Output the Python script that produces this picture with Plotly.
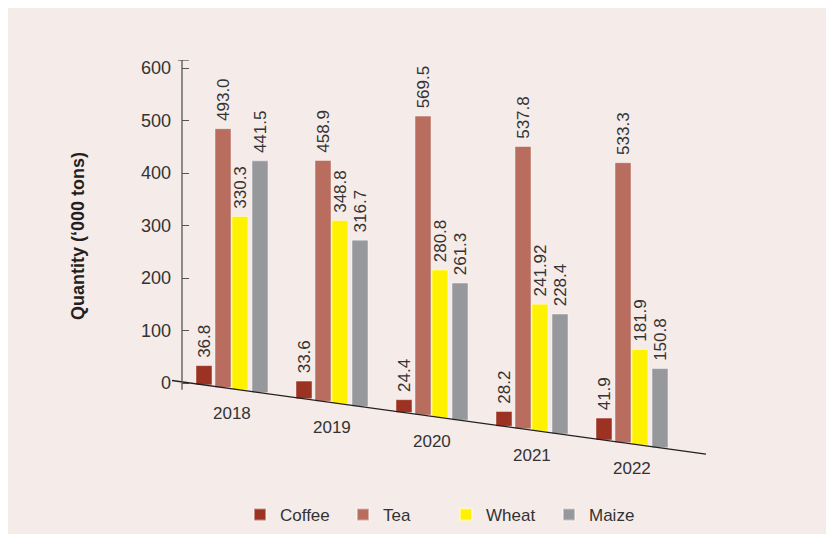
import plotly.graph_objects as go

# data
years = [2018, 2019, 2020, 2021, 2022]
coffee = [36.8, 33.6, 24.4, 28.2, 41.9]
tea = [493.0, 458.9, 569.5, 537.8, 533.3]
wheat = [330.3, 348.8, 280.8, 241.92, 181.9]
maize = [441.5, 316.7, 261.3, 228.4, 150.8]

series = [('Coffee', coffee, '#9c3222'), ('Tea', tea, '#b86d5e'),
          ('Wheat', wheat, '#fff200'), ('Maize', maize, '#97989b')]

# page geometry (pixels); the page body adds an 8px offset to the figure
PAGE_OFF = 8
W, H = 834 - PAGE_OFF, 534 - PAGE_OFF
PLOT_L, PLOT_R, PLOT_T, PLOT_B = 182, 707, 60, 480   # plot area in page pixels
PX_PER_UNIT = 0.525
ZERO_PX = 383

plot_w = PLOT_R - PLOT_L
plot_h = PLOT_B - PLOT_T


def floor(px):
    # y value of the slanted floor line at horizontal page pixel px
    return (ZERO_PX - (380.5 + 0.1378 * (px - 172))) / PX_PER_UNIT


def year_px(x):
    return PLOT_L + (x - 2017.5) * 100


font = 'Liberation Sans, Arial, sans-serif'
offsets = [-0.28, -0.09, 0.08, 0.28]
width = 0.16

data = []
for (name, vals, color), off in zip(series, offsets):
    bases = [floor(year_px(y + off)) for y in years]
    data.append(go.Bar(x=years, y=vals, base=bases, name=name,
                       offset=off - width / 2, width=width,
                       marker={'color': color, 'line': {'color': 'rgba(255,255,255,0.45)', 'width': 1}},
                       text=[' ' + str(v) for v in vals], textposition='outside', textangle=-90,
                       constraintext='none', cliponaxis=False,
                       textfont={'size': 17, 'color': '#333333', 'family': font}))

ytop = (ZERO_PX - PLOT_T) / PX_PER_UNIT
ybot = (ZERO_PX - PLOT_B) / PX_PER_UNIT

shapes = [
    # slanted floor
    dict(type='line', xref='paper', yref='y', x0=(172 - PLOT_L) / plot_w, x1=(706 - PLOT_L) / plot_w,
         y0=floor(172), y1=floor(706), line={'color': '#231f20', 'width': 1.3}),
    # y axis line
    dict(type='line', xref='paper', yref='y', x0=0, x1=0, y0=floor(182) - 15, y1=ytop,
         line={'color': '#555555', 'width': 1.3}),
    dict(type='line', xref='paper', yref='y', x0=-4 / plot_w, x1=7 / plot_w, y0=ytop, y1=ytop,
         line={'color': '#555555', 'width': 1.3}),
]

annotations = [dict(x=y, y=floor(year_px(y)), yshift=-25, text=str(y), showarrow=False,
                    font={'size': 17, 'color': '#333333', 'family': font}) for y in years]
annotations.append(dict(xref='paper', yref='paper', x=(78 - PLOT_L) / plot_w, y=(PLOT_B - 236) / plot_h,
                        xanchor='center', yanchor='middle',
                        text='<b>Quantity (‘000 tons)</b>', textangle=-90, showarrow=False,
                        font={'size': 18, 'color': '#231f20', 'family': font}))

layout = go.Layout(
    width=W, height=H,
    margin={'l': PLOT_L - PAGE_OFF, 'r': W + PAGE_OFF - PLOT_R, 't': PLOT_T - PAGE_OFF,
            'b': H + PAGE_OFF - PLOT_B, 'autoexpand': False},
    paper_bgcolor='#f5ebe9', plot_bgcolor='rgba(0,0,0,0)',
    barmode='overlay', showlegend=True,
    font={'family': font, 'color': '#333333'},
    xaxis={'range': [2017.5, 2022.75], 'visible': False},
    yaxis={'range': [ybot, ytop], 'tickvals': [0, 100, 200, 300, 400, 500, 600],
           'showgrid': False, 'zeroline': False, 'showline': False, 'automargin': False,
           'ticks': 'inside', 'ticklen': 7, 'tickcolor': '#555555', 'tickwidth': 1.3,
           'ticklabelstandoff': 10, 'tickfont': {'size': 18, 'color': '#333333'}},
    legend={'orientation': 'h', 'x': (240 - PLOT_L) / plot_w, 'xanchor': 'left',
            'y': -35 / plot_h, 'yanchor': 'middle', 'entrywidth': 58, 'itemsizing': 'constant',
            'font': {'size': 17, 'color': '#333333'}, 'bgcolor': 'rgba(0,0,0,0)'},
    shapes=shapes, annotations=annotations,
)

fig = go.Figure(data=data, layout=layout)
fig.write_html("out.html")
